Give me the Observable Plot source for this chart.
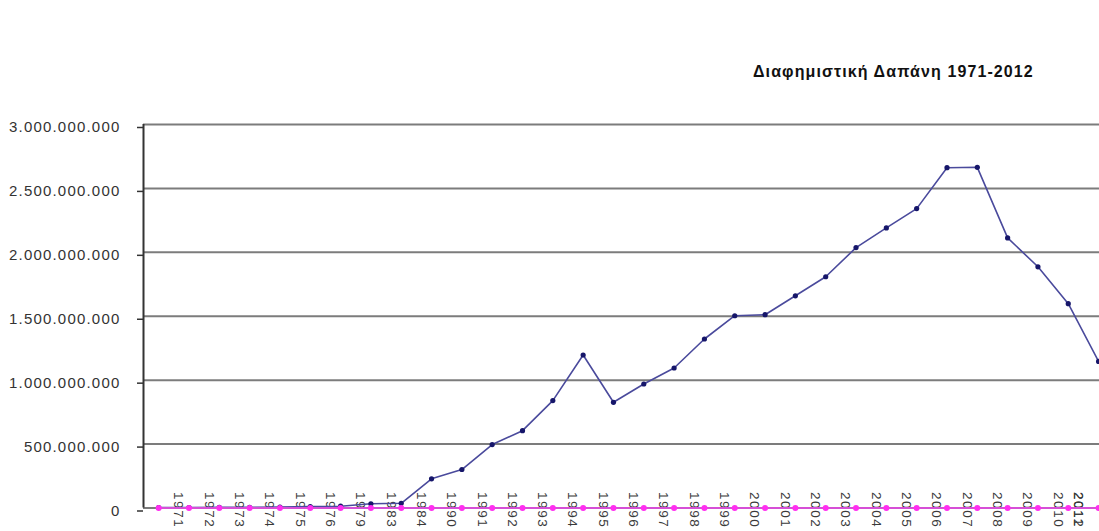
<!DOCTYPE html>
<html>
<head>
<meta charset="utf-8">
<script src="https://cdn.jsdelivr.net/npm/d3@7"></script>
<script src="https://cdn.jsdelivr.net/npm/@observablehq/plot@0.6"></script>
<style>
  html, body { margin: 0; padding: 0; background: #fff; }
  #wrap { position: relative; width: 1099px; height: 531px; overflow: hidden; }
  #wrap svg { display: block; }
  #title { position: absolute; left: 753px; top: 63px; font: bold 16px "Liberation Sans", Arial, sans-serif; letter-spacing: 1.1px; color: #111; white-space: nowrap; }
  svg { font-family: "Liberation Sans", Arial, sans-serif; }
  #wrap svg g[aria-label="y-axis tick label"] text { letter-spacing: 1.2px; }
  #wrap svg g[aria-label="text"] text { letter-spacing: 1.6px; }
</style>
</head>
<body>
<div id="wrap"><div id="title"></div></div>
<script>
const title = "Διαφημιστική Δαπάνη 1971-2012";
const years = ["1971","1972","1973","1974","1975","1976","1979","1983","1984","1990","1991","1992","1993","1994","1995","1996","1997","1998","1999","2000","2001","2002","2003","2004","2005","2006","2007","2008","2009","2010","2011","2012"];
const spending = [3e6,4e6,5e6,6e6,8e6,11e6,14e6,33e6,37e6,228e6,301e6,496e6,605e6,840e6,1197e6,827e6,970e6,1095e6,1322e6,1504e6,1512e6,1660e6,1809e6,2037e6,2191e6,2342e6,2662e6,2665e6,2113e6,1887e6,1598e6,1147e6];
const secondSeries = [0,0,0,0,0,0,0,0,0,0,0,0,0,0,0,0,0,0,0,0,0,0,0,0,0,0,0,0,0,0,0,0];
const yTicks = [0, 500e6, 1000e6, 1500e6, 2000e6, 2500e6, 3000e6];

document.getElementById("title").textContent = title;

const locale = d3.formatLocale({decimal: ",", thousands: ".", grouping: [3], currency: ["", " €"]});
const fmt = locale.format(",");

const main = years.map((y, i) => ({i, year: y, v: spending[i]}));
const second = years.map((y, i) => ({i, year: y, v: secondSeries[i]}));

const W = 1099, ML = 143;
const xDomain = [-0.5, 31.03];
const pxPerStep = (W - ML) / (xDomain[1] - xDomain[0]);
const labelShift = 20 / pxPerStep;                     // labels sit ~20px right of their point
const labelMax = (1078 - ML) / pxPerStep + xDomain[0]; // keep the last labels inside the frame

const chart = Plot.plot({
  width: W,
  height: 531,
  marginLeft: ML,
  marginRight: 0,
  marginTop: 124,
  marginBottom: 23.5,
  style: {background: "transparent", fontFamily: "'Liberation Sans', Arial, sans-serif"},
  x: {type: "linear", domain: xDomain, axis: null},
  y: {domain: [0, 3e9], axis: null},
  marks: [
    Plot.gridY(yTicks, {stroke: "#7c7c7c", strokeOpacity: 1, strokeWidth: 2}),
    Plot.axisY(yTicks, {label: null, tickSize: 6, tickPadding: 17, tickFormat: fmt, stroke: "#333", strokeWidth: 1.5, fill: "#333", fontSize: 15, dy: 3}),
    Plot.ruleX([-0.5], {y1: 0, y2: 3e9, stroke: "#333", strokeWidth: 2}),
    Plot.text(second, {x: d => Math.min(d.i + labelShift, labelMax), y: 0, text: "year", rotate: 90, textAnchor: "start", dy: -16, fontSize: 13.5, fill: "#3a3a3a"}),
    Plot.line(main, {x: "i", y: "v", stroke: "#4a4a9c", strokeWidth: 1.6}),
    Plot.dot(main, {x: "i", y: "v", r: 2.6, fill: "#16166a", stroke: "none"}),
    Plot.line(second, {x: "i", y: "v", stroke: "#d64fd6", strokeWidth: 2.2}),
    Plot.dot(second, {x: "i", y: "v", r: 3, fill: "#ff2ef0", stroke: "none"})
  ]
});
document.getElementById("wrap").prepend(chart);
</script>
</body>
</html>
